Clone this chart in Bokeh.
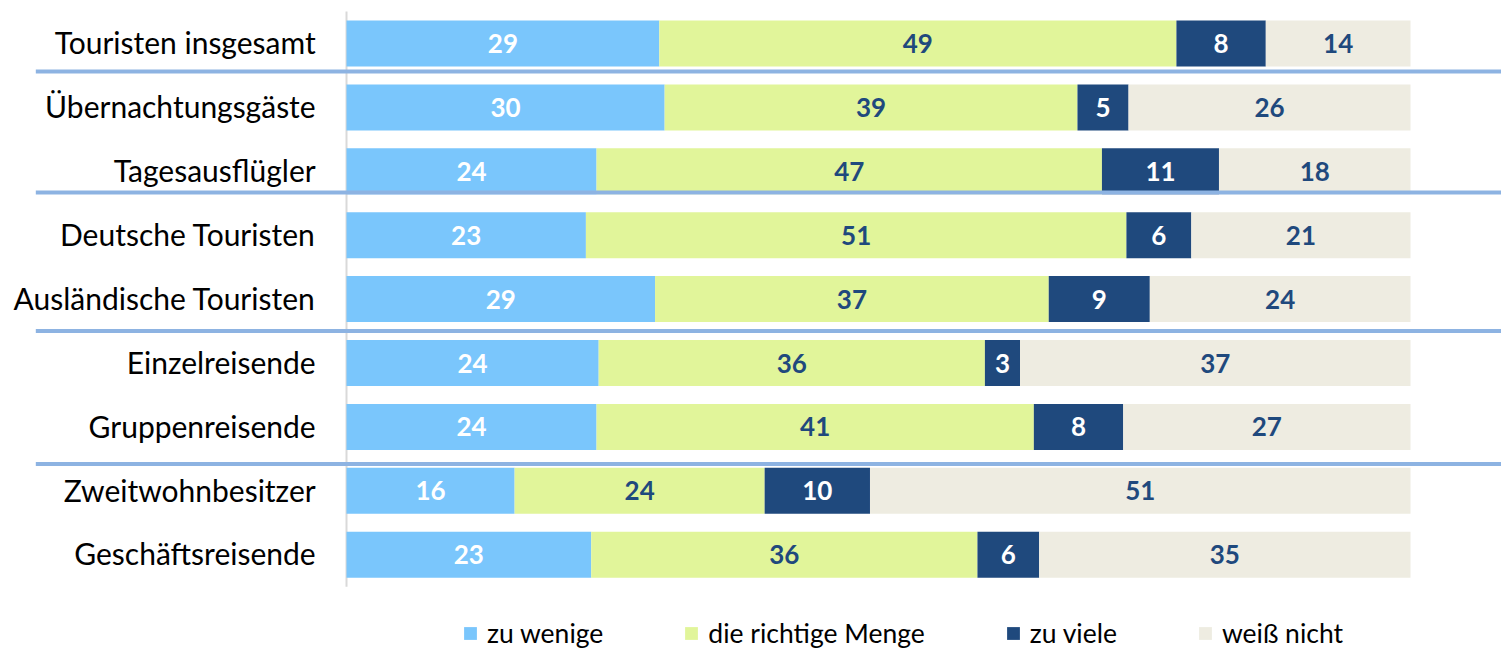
import numpy as np
from bokeh.plotting import figure
from bokeh.models import ColumnDataSource, Range1d, Legend, LegendItem
from bokeh.core.properties import value
from bokeh.embed import file_html
from bokeh.resources import INLINE

categories = ["Touristen insgesamt", "Übernachtungsgäste", "Tagesausflügler",
              "Deutsche Touristen", "Ausländische Touristen", "Einzelreisende",
              "Gruppenreisende", "Zweitwohnbesitzer", "Geschäftsreisende"]
series_names = ["zu wenige", "die richtige Menge", "zu viele", "weiß nicht"]

# bar widths (percent)
zu_wenige = [29.4, 29.9, 23.5, 22.5, 29.0, 23.7, 23.5, 15.8, 23.0]
richtige_menge = [48.6, 38.8, 47.5, 50.8, 37.0, 36.3, 41.1, 23.5, 36.3]
zu_viele = [8.4, 4.8, 11.0, 6.1, 9.5, 3.3, 8.4, 9.9, 5.8]
weiss_nicht = [13.6, 26.5, 18.0, 20.6, 24.5, 36.7, 27.0, 50.8, 34.9]

# printed labels
lab_zu_wenige = ["29", "30", "24", "23", "29", "24", "24", "16", "23"]
lab_richtige = ["49", "39", "47", "51", "37", "36", "41", "24", "36"]
lab_zu_viele = ["8", "5", "11", "6", "9", "3", "8", "10", "6"]
lab_weiss = ["14", "26", "18", "21", "24", "37", "27", "51", "35"]

colors = ["#7AC6FC", "#E1F59A", "#1F497D", "#EEECE1"]
text_colors = ["#FFFFFF", "#1F497D", "#FFFFFF", "#1F497D"]
sep_color = "#8DB3E2"
separator_y = [0.44, 2.33, 4.50, 6.58]

FONT = "Lato"
W, H = 1501, 649
px_per_unit = 10.64
x0_px = 346
row0_px = 43
row_px = 63.9

p = figure(width=W, height=H, output_backend="svg", toolbar_location=None,
           x_range=Range1d(-x0_px / px_per_unit, (W - x0_px) / px_per_unit),
           y_range=Range1d((H - row0_px) / row_px, -row0_px / row_px),
           min_border=0, outline_line_color=None)
p.axis.visible = False
p.grid.visible = False
p.background_fill_color = "white"

n = len(categories)
rows = np.arange(n)
vals = [zu_wenige, richtige_menge, zu_viele, weiss_nicht]
labs = [lab_zu_wenige, lab_richtige, lab_zu_viele, lab_weiss]

# axis line
p.segment(x0=[0], x1=[0], y0=[-0.5], y1=[n - 0.5], line_color="#D9D9D9", line_width=2)

left = np.zeros(n)
renderers = []
for k in range(4):
    v = np.array(vals[k])
    right = left + v
    src = ColumnDataSource(dict(y=rows, left=left, right=right,
                                mid=(left + right) / 2, lab=labs[k]))
    r = p.hbar(y="y", left="left", right="right", height=0.72, source=src,
               fill_color=colors[k], line_color=None)
    renderers.append(r)
    p.text(x="mid", y="y", text="lab", source=src, text_align="center",
           text_baseline="middle", text_color=text_colors[k],
           text_font=value(FONT), text_font_style="bold", text_font_size="26px")
    left = right

# separators
for yv in separator_y:
    p.segment(x0=[-29.2], x1=[W / px_per_unit], y0=[yv], y1=[yv],
              line_color=sep_color, line_width=4)

# category labels
p.text(x=[-2.9] * n, y=rows - 0.02, text=categories, text_align="right",
       text_baseline="middle", text_color="#000000", text_font=value(FONT),
       text_font_size="30px")

legend = Legend(items=[LegendItem(label=series_names[k], renderers=[renderers[k]])
                       for k in range(4)],
                orientation="horizontal", location=(462, 0),
                glyph_width=16, glyph_height=16, label_height=16,
                label_standoff=9, spacing=80, padding=0, margin=0,
                border_line_color=None, background_fill_alpha=0,
                label_text_font=FONT, label_text_font_size="26.5px",
                label_text_color="#000000")
p.add_layout(legend)

open("out.html", "w").write(file_html(p, INLINE))
